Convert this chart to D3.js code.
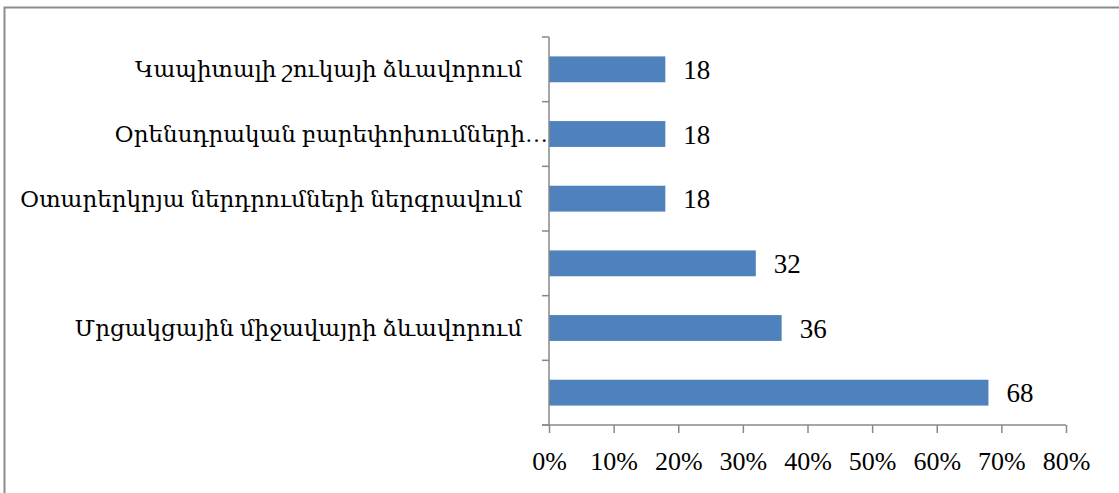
<!DOCTYPE html>
<html><head><meta charset="utf-8">
<script src="https://cdn.jsdelivr.net/npm/d3@7"></script>
<style>
html,body{margin:0;padding:0;background:#fff;}
svg{display:block;}
text{font-family:"Liberation Serif","DejaVu Serif",serif;fill:#000;}
</style></head>
<body>
<svg id="chart" width="1119" height="493"></svg>
<script>
const categories = ["Կապիտալի շուկայի ձևավորում", "Օրենսդրական բարեփոխումների…", "Օտարերկրյա ներդրումների ներգրավում", "", "Մրցակցային միջավայրի ձևավորում", ""];
const values = [18, 18, 18, 32, 36, 68];
const tickValues = [0, 10, 20, 30, 40, 50, 60, 70, 80];

(function () {
const svg = d3.select("#chart");
svg.append("rect").attr("x", 4.5).attr("y", 7.5).attr("width", 1130).attr("height", 500)
  .attr("fill", "#fff").attr("stroke", "#8c8c8c").attr("stroke-width", 2);

const pl = 549, pr = 1066, pt = 37, pb = 425;
const x = d3.scaleLinear().domain([0, 80]).range([pl, pr]);
const y = d3.scaleBand().domain(d3.range(categories.length)).range([pt, pb]).paddingInner(0.6).paddingOuter(0.3);

const g = svg.append("g");
g.selectAll("rect.bar").data(values).join("rect").attr("class", "bar")
  .attr("x", x(0)).attr("y", (d, i) => y(i)).attr("width", d => x(d) - x(0)).attr("height", y.bandwidth())
  .attr("fill", "#4f81bd");

// y axis
const step = (pb - pt) / categories.length;
const yb = d3.range(categories.length + 1).map(i => pt + i * step);
g.append("line").attr("x1", pl).attr("x2", pl).attr("y1", pt).attr("y2", pb).attr("stroke", "#888").attr("stroke-width", 1.5);
g.selectAll("line.yt").data(yb).join("line").attr("class", "yt")
  .attr("x1", pl - 7).attr("x2", pl).attr("y1", d => d).attr("y2", d => d).attr("stroke", "#888").attr("stroke-width", 1.5);

// x axis
const xAxis = d3.axisBottom(x).tickValues(tickValues).tickSize(8).tickPadding(19).tickFormat(d => d + "%");
const ax = g.append("g").attr("transform", `translate(0,${pb})`).call(xAxis);
ax.select(".domain").attr("stroke", "#888").attr("stroke-width", 1.5).attr("d", `M${pl - 7},0H${pr}`);
ax.selectAll(".tick line").attr("stroke", "#888").attr("stroke-width", 1.5);
ax.selectAll(".tick text").attr("font-size", 26).attr("fill", "#000");

// category labels
g.selectAll("text.cat").data(categories).join("text").attr("class", "cat")
  .attr("x", (d, i) => i === 1 ? pl - 1 : pl - 27).attr("y", (d, i) => y(i) + y.bandwidth() / 2)
  .attr("dy", "0.35em").attr("text-anchor", "end").attr("font-size", 23).text(d => d);

// value labels
g.selectAll("text.val").data(values).join("text").attr("class", "val")
  .attr("x", d => x(d) + 18).attr("y", (d, i) => y(i) + y.bandwidth() / 2)
  .attr("dy", "0.36em").attr("font-size", 27).text(d => d);
})();
</script>
</body></html>
